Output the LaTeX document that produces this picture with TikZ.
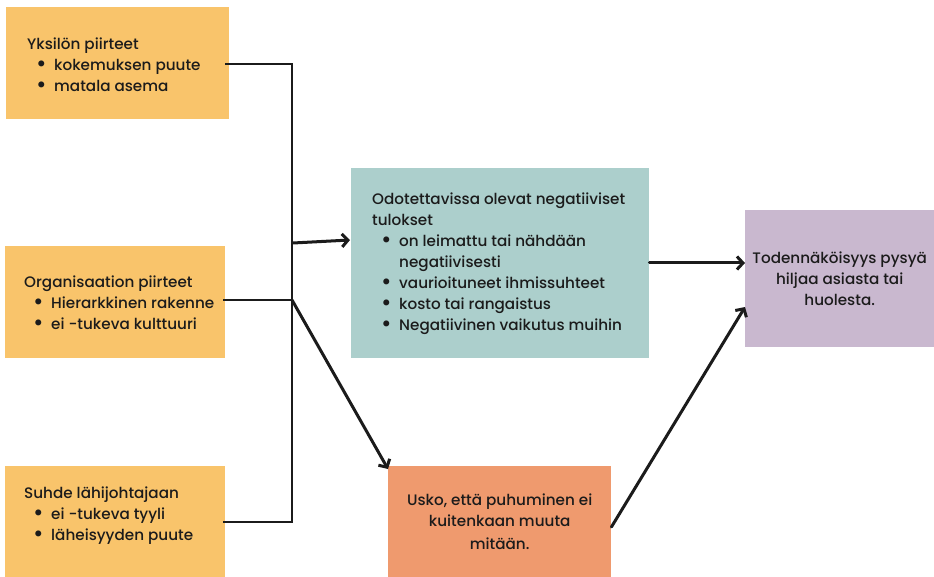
\documentclass[tikz,border=0pt]{standalone}
\usepackage{fontspec}
\usepackage{graphicx}
\setmainfont{Poppins}[UprightFont={* Medium}]
\usetikzlibrary{arrows.meta}
\definecolor{sand}{HTML}{F9C46B}
\definecolor{sage}{HTML}{ACCFCC}
\definecolor{coral}{HTML}{EF9A6E}
\definecolor{lilac}{HTML}{C9B8CF}
\definecolor{ink}{HTML}{1B1B1B}
% bullet item: bullet indented, text at a fixed indent
\newcommand{\bitem}[1]{\hspace*{9pt}\makebox[18pt][l]{\raisebox{-0.5pt}{\scalebox{1.5}{\textbullet}}}#1}
\newcommand{\bcont}[1]{\hspace*{27pt}#1}
\begin{document}
\begin{tikzpicture}[x=1pt,y=-1pt,
  txt/.style={inner sep=0pt, text=ink, font=\fontsize{15.2}{21}\selectfont},
  box/.style={rectangle, inner sep=0pt, anchor=north west},
  list/.style={txt, align=left, anchor=west},
  link/.style={draw=ink, line width=2pt},
  flow/.style={draw=ink, line width=3pt, line cap=round,
    -{Straight Barb[length=6pt,width=13pt,line width=3pt]}}]
\useasboundingbox (0,0) rectangle (934,577);

% factor boxes on the left
\node[box, fill=sand, minimum width=223pt, minimum height=112pt] (ind) at (6,7) {};
\node[box, fill=sand, minimum width=220pt, minimum height=112pt] (org) at (5,246) {};
\node[box, fill=sand, minimum width=220pt, minimum height=112pt] (sup) at (5,466) {};
\node[list] (indtxt) at (27,65) {Yksilön piirteet\\
  \bitem{kokemuksen puute}\\
  \bitem{matala asema}};
\node[list] (orgtxt) at (24,303) {Organisaation piirteet\\
  \bitem{Hierarkkinen rakenne}\\
  \bitem{ei -tukeva kulttuuri}};
\node[list] (suptxt) at (24,516) {Suhde lähijohtajaan\\
  \bitem{ei -tukeva tyyli}\\
  \bitem{läheisyyden puute}};

% expected negative outcomes
\node[box, fill=sage, minimum width=298pt, minimum height=190pt] (neg) at (351,168) {};
\node[list] (negtxt) at (372,264) {Odotettavissa olevat negatiiviset\\
  tulokset\\
  \bitem{on leimattu tai nähdään}\\
  \bcont{negatiivisesti}\\
  \bitem{vaurioituneet ihmissuhteet}\\
  \bitem{kosto tai rangaistus}\\
  \bitem{Negatiivinen vaikutus muihin}};

% belief that speaking up changes nothing
\node[box, txt, fill=coral, minimum width=223pt, minimum height=111pt,
  align=center] (bel) at (388,466) {Usko, että puhuminen ei\\
  kuitenkaan muuta\\[2pt]
  mitään.};

% outcome
\node[box, txt, fill=lilac, minimum width=189pt, minimum height=137pt,
  align=center] (sil) at (745,210) {Todennäköisyys pysyä\\
  hiljaa asiasta tai\\
  huolesta.};

% collecting bracket
\coordinate (j1) at (292,64);
\coordinate (j2) at (292,300);
\coordinate (j3) at (292,522);
\coordinate (j0) at (293,243);
\draw[link, line join=miter] ([xshift=-4pt]ind.east |- j1) -- (j1) -- (j3)
  -- ([xshift=-2pt]sup.east |- j3);
\draw[link] ([xshift=-2pt]org.east |- j2) -- (j2);

% arrows
\draw[flow] (j0) -- ([xshift=-1pt,yshift=3pt]neg.west |- j0);
\draw[flow] (j2) -- ([yshift=-3pt]bel.north west);
\draw[flow] (neg.east |- 0,263) -- (sil.west |- 0,263);
\draw[flow] (bel.east |- 0,527) -- (sil.west |- 0,307);
\end{tikzpicture}
\end{document}
